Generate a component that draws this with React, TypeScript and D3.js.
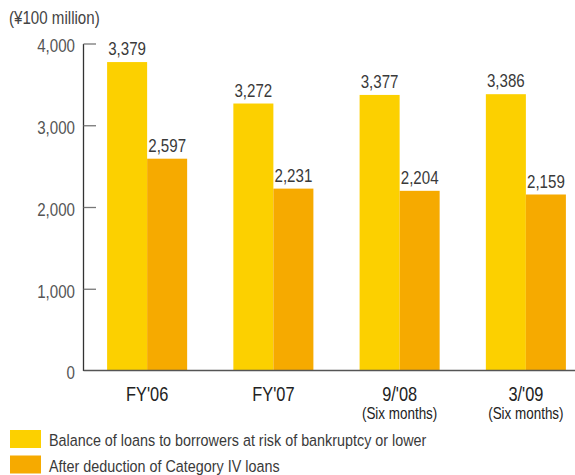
import React from "react";
import * as d3 from "d3";

const categories = ["FY'06", "FY'07", "9/'08", "3/'09"];
const subLabels = ["", "", "(Six months)", "(Six months)"];
const balanceValues = [3779, 3272, 3377, 3386];
const balanceLabelValues = [3379, 3272, 3377, 3386];
const afterValues = [2597, 2231, 2204, 2159];
const yTicks = [0, 1000, 2000, 3000, 4000];
const seriesNames = [
  "Balance of loans to borrowers at risk of bankruptcy or lower",
  "After deduction of Category IV loans",
];
const unitLabel = "(¥100 million)";

const W = 575;
const H = 475;
const YELLOW = "#FCD000";
const ORANGE = "#F6AA00";
const FONT = "'Liberation Sans', Arial, sans-serif";
const SX = 0.84;

type TProps = {
  x: number;
  y: number;
  size: number;
  fill: string;
  anchor?: "start" | "middle" | "end";
  dy?: string;
  children: React.ReactNode;
};

function CText({ x, y, size, fill, anchor = "start", dy, children }: TProps) {
  return (
    <text
      transform={`translate(${x},${y}) scale(${SX},1)`}
      textAnchor={anchor}
      fontSize={size}
      fill={fill}
      dy={dy}
    >
      {children}
    </text>
  );
}

export default function App() {
  const x0 = d3.scaleBand<string>().domain(categories).range([84, 589]).paddingInner(0.366).paddingOuter(0.183);
  const x1 = d3.scaleBand<number>().domain([0, 1]).range([0, x0.bandwidth()]);
  const y = d3.scaleLinear().domain([0, 4000]).range([371, 44]);
  const fmt = d3.format(",");
  const axisX = 83.5;

  const series = [
    { values: balanceValues, labels: balanceLabelValues, color: YELLOW },
    { values: afterValues, labels: afterValues, color: ORANGE },
  ];

  return (
    <svg width={W} height={H} style={{ position: "absolute", left: 0, top: 0, fontFamily: FONT }}>
      <rect width={W} height={H} fill="#fff" />
      <CText x={9} y={24} size={18} fill="#444">{unitLabel}</CText>

      {series.map((s, si) =>
        categories.map((c, ci) => {
          const bx = (x0(c) as number) + (x1(si) as number);
          const yv = y(s.values[ci]);
          return (
            <g key={`${si}-${ci}`}>
              <rect x={bx} y={yv} width={x1.bandwidth()} height={y(0) - yv} fill={s.color} />
              <CText x={bx + x1.bandwidth() / 2} y={yv - 7} anchor="middle" size={18} fill="#3a3a3a">
                {fmt(s.labels[ci])}
              </CText>
            </g>
          );
        })
      )}

      <line x1={axisX} x2={axisX} y1={y(4000)} y2={y(0)} stroke="#333" strokeWidth={1.3} />
      <line x1={axisX} x2={W} y1={y(0) - 0.5} y2={y(0) - 0.5} stroke="#555" strokeWidth={1.3} />
      {yTicks.map((t) => (
        <g key={t}>
          {t > 0 && <line x1={axisX} x2={96} y1={y(t)} y2={y(t)} stroke="#777" strokeWidth={1.3} />}
          <CText x={75} y={y(t) + 2} dy="0.35em" anchor="end" size={18} fill="#555">
            {fmt(t)}
          </CText>
        </g>
      ))}

      {categories.map((c, ci) => {
        const cx = (x0(c) as number) + x0.bandwidth() / 2;
        return (
          <g key={c}>
            <CText x={cx} y={401} anchor="middle" size={19.5} fill="#222">{c}</CText>
            {subLabels[ci] && (
              <CText x={cx} y={419} anchor="middle" size={16} fill="#222">{subLabels[ci]}</CText>
            )}
          </g>
        );
      })}

      {seriesNames.map((n, i) => (
        <g key={n}>
          <rect x={10} y={430 + i * 25.5} width={31} height={18} fill={i === 0 ? YELLOW : ORANGE} />
          <CText x={49} y={446 + i * 25.5} size={17.1} fill="#3a3a3a">{n}</CText>
        </g>
      ))}
    </svg>
  );
}
